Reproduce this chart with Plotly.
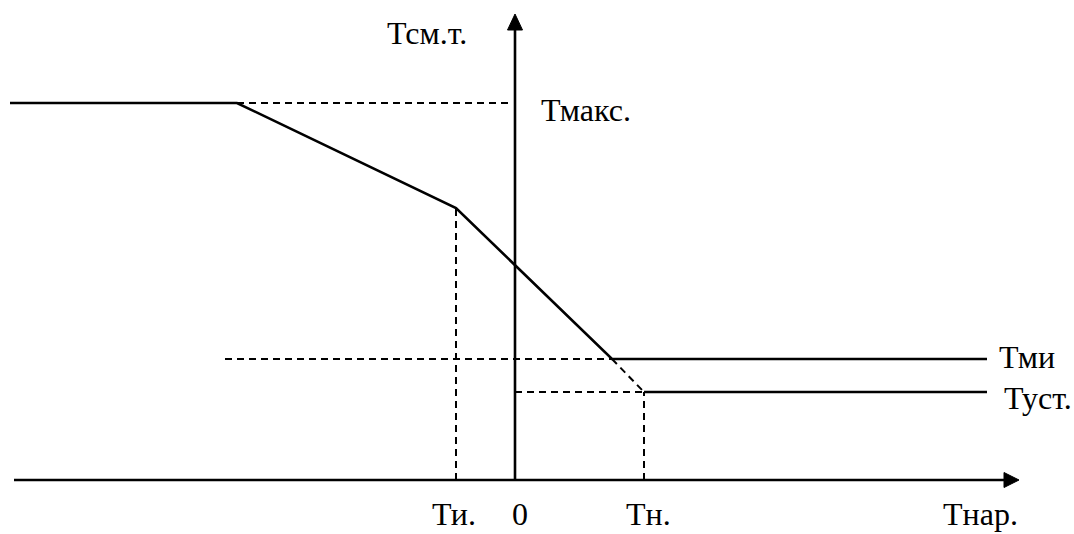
import plotly.graph_objects as go

# Characteristic points (abstract units, origin at axes crossing)
T_i = -59          # Ти.
T_n = 129          # Тн.
T_max = 377        # Тмакс.
T_mi = 121         # Тми
T_ust = 88         # Туст.
x_left = -505
x_break_max = -278
x_break_mi = 97
x_right = 472

# main characteristic curve
curve_x = [x_left, x_break_max, T_i, x_break_mi, x_right]
curve_y = [T_max, T_max, 272, T_mi, T_mi]

# setpoint line
ust_x = [T_n, x_right]
ust_y = [T_ust, T_ust]

# axes extents
axis_x = [-501, 504]
axis_y = [0, 466]

fig = go.Figure()

solid = dict(color="black", width=2.6)
dashed = dict(color="black", width=2, dash="7px,5px")

def line(xs, ys, style):
    fig.add_trace(go.Scatter(x=xs, y=ys, mode="lines", line=style,
                             hoverinfo="skip", showlegend=False))

# dashed helper lines
line([x_break_max, -7], [T_max, T_max], dashed)
line([T_i, T_i], [0, 272], dashed)
line([-290, x_break_mi], [T_mi, T_mi], dashed)
line([x_break_mi, T_n], [T_mi, T_ust], dashed)
line([0, T_n], [T_ust, T_ust], dashed)
line([T_n, T_n], [0, T_ust], dashed)

# axes
line([axis_x[0], axis_x[1] - 12], [0, 0], solid)
line([0, 0], [axis_y[0], axis_y[1] - 12], solid)

# arrowheads
ah_len, ah_half = 15, 7.5
fig.add_trace(go.Scatter(
    x=[axis_x[1], axis_x[1] - ah_len, axis_x[1] - ah_len, axis_x[1]],
    y=[0, ah_half, -ah_half, 0], mode="lines", fill="toself",
    fillcolor="black", line=dict(color="black", width=1),
    hoverinfo="skip", showlegend=False))
fig.add_trace(go.Scatter(
    x=[0, -ah_half, ah_half, 0],
    y=[axis_y[1], axis_y[1] - ah_len - 1, axis_y[1] - ah_len - 1, axis_y[1]],
    mode="lines", fill="toself",
    fillcolor="black", line=dict(color="black", width=1),
    hoverinfo="skip", showlegend=False))

# curves
line(curve_x, curve_y, solid)
line(ust_x, ust_y, solid)

font = dict(family="Liberation Serif, Times New Roman, serif", size=32, color="black")
labels = [
    ("Тсм.т.", -88, 447, "center", "middle"),
    ("Тмакс.", 25, 370, "left", "middle"),
    ("Тми", 483, 123, "left", "middle"),
    ("Туст.", 488, 82, "left", "middle"),
    ("Ти.", -61, -53, "center", "bottom"),
    ("0", 5, -53, "center", "bottom"),
    ("Тн.", 133, -53, "center", "bottom"),
    ("Тнар.", 465, -53, "center", "bottom"),
]
for text, x, y, xa, ya in labels:
    fig.add_annotation(x=x, y=y, text=text, showarrow=False, xanchor=xa,
                       yanchor=ya, font=font, borderpad=0)

fig.update_layout(
    width=1074, height=534,
    margin=dict(l=0, r=0, t=0, b=0),
    paper_bgcolor="white", plot_bgcolor="white",
    xaxis=dict(range=[-515, 559], visible=False, fixedrange=True),
    yaxis=dict(range=[-54, 480], visible=False, fixedrange=True),
    showlegend=False,
)

fig.write_html(
    "out.html",
    config={"displayModeBar": False},
    post_script="document.body.style.margin='0';document.body.style.overflow='hidden';",
)
